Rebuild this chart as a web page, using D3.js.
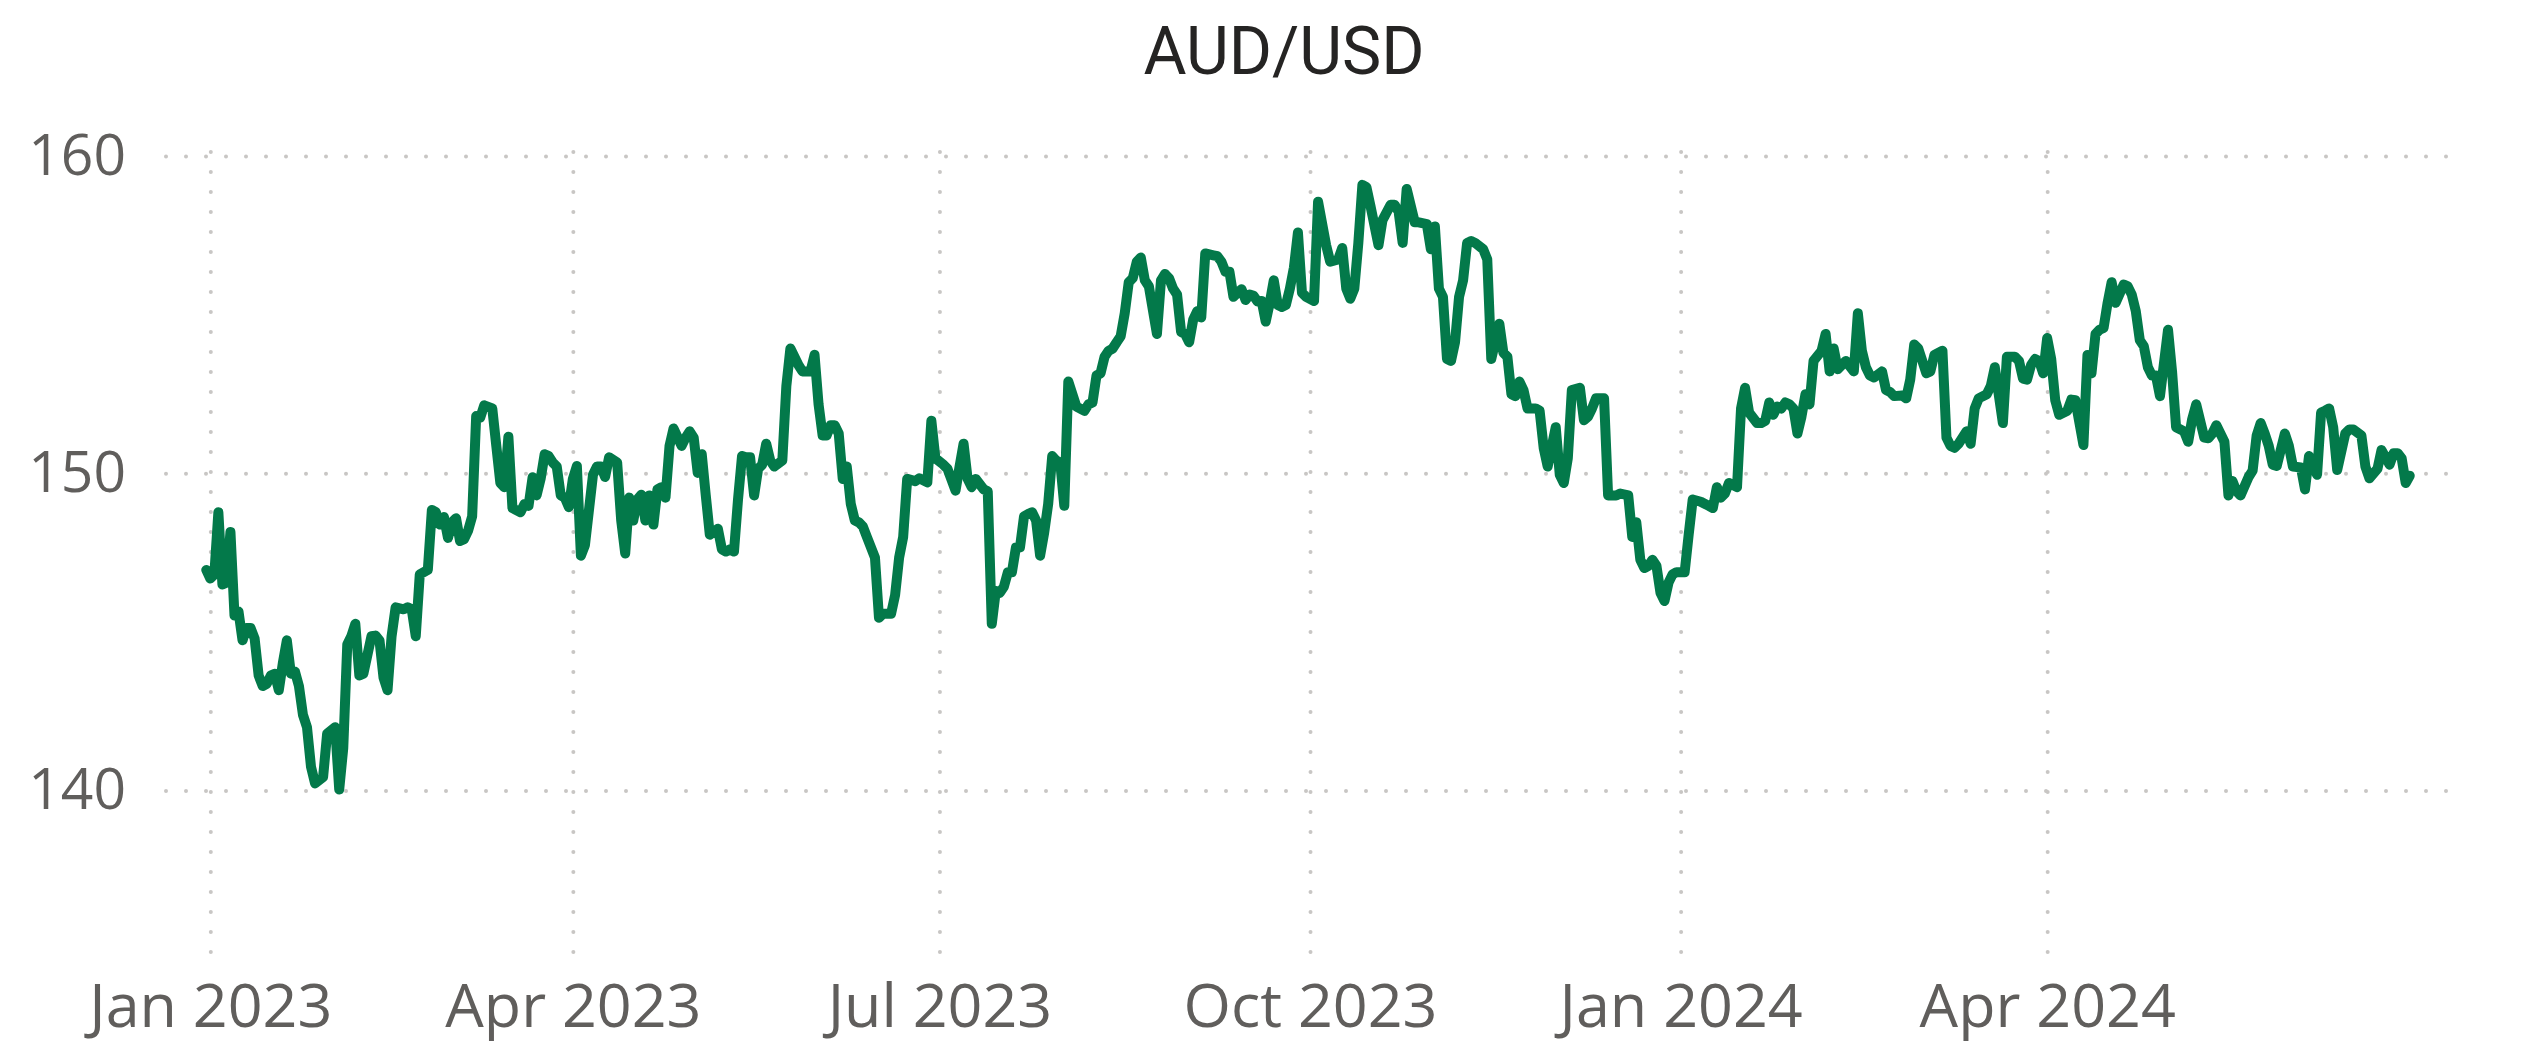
<!DOCTYPE html>
<html>
<head>
<meta charset="utf-8">
<title>AUD/USD</title>
<script src="https://cdn.jsdelivr.net/npm/d3@7"></script>
<style>
  body { margin: 0; background: #fff; overflow: hidden; }
  .title { font-family: "Roboto", "DejaVu Sans", sans-serif; font-weight: 400; fill: #252423; }
  .tick text { font-family: "Segoe UI", "Open Sans", "Noto Sans", sans-serif; fill: #605e5c; }
  .grid line { stroke: #c8c6c4; stroke-width: 4; stroke-linecap: round; }
  .rate { fill: none; stroke: #03794a; stroke-width: 10; stroke-linejoin: round; stroke-linecap: round; }
</style>
</head>
<body>
<div id="chart"></div>
<script>
// daily closes, one line per month
var dates = [
  "2022-12-31",
  "2023-01-01","2023-01-02","2023-01-03","2023-01-04","2023-01-05","2023-01-06","2023-01-07","2023-01-08","2023-01-09","2023-01-10","2023-01-11","2023-01-12","2023-01-13","2023-01-14","2023-01-15","2023-01-16","2023-01-17","2023-01-18","2023-01-19","2023-01-20","2023-01-21","2023-01-22","2023-01-23","2023-01-24","2023-01-25","2023-01-26","2023-01-27","2023-01-29","2023-01-30",
  "2023-02-01","2023-02-02","2023-02-03","2023-02-04","2023-02-05","2023-02-06","2023-02-07","2023-02-08","2023-02-09","2023-02-10","2023-02-11","2023-02-12","2023-02-13","2023-02-14","2023-02-15","2023-02-16","2023-02-18","2023-02-19","2023-02-20","2023-02-21","2023-02-22","2023-02-23","2023-02-24","2023-02-25","2023-02-26","2023-02-27","2023-02-28",
  "2023-03-01","2023-03-02","2023-03-03","2023-03-04","2023-03-05","2023-03-06","2023-03-07","2023-03-08","2023-03-09","2023-03-10","2023-03-12","2023-03-13","2023-03-14","2023-03-15","2023-03-16","2023-03-17","2023-03-19","2023-03-20","2023-03-21","2023-03-22","2023-03-23","2023-03-24","2023-03-25","2023-03-26","2023-03-27","2023-03-28","2023-03-29","2023-03-30","2023-03-31",
  "2023-04-01","2023-04-02","2023-04-03","2023-04-04","2023-04-06","2023-04-07","2023-04-08","2023-04-09","2023-04-10","2023-04-12","2023-04-13","2023-04-14","2023-04-15","2023-04-16","2023-04-17","2023-04-18","2023-04-19","2023-04-20","2023-04-21","2023-04-22","2023-04-23","2023-04-24","2023-04-25","2023-04-26","2023-04-28","2023-04-29","2023-04-30",
  "2023-05-01","2023-05-02","2023-05-03","2023-05-04","2023-05-05","2023-05-07","2023-05-08","2023-05-09","2023-05-10","2023-05-11","2023-05-12","2023-05-13","2023-05-14","2023-05-15","2023-05-16","2023-05-17","2023-05-18","2023-05-19","2023-05-20","2023-05-21","2023-05-23","2023-05-24","2023-05-25","2023-05-27","2023-05-28","2023-05-30","2023-05-31",
  "2023-06-01","2023-06-02","2023-06-03","2023-06-04","2023-06-05","2023-06-06","2023-06-07","2023-06-08","2023-06-09","2023-06-10","2023-06-11","2023-06-12","2023-06-13","2023-06-15","2023-06-16","2023-06-17","2023-06-19","2023-06-20","2023-06-21","2023-06-22","2023-06-23","2023-06-25","2023-06-26","2023-06-28","2023-06-29","2023-06-30",
  "2023-07-02","2023-07-03","2023-07-05","2023-07-06","2023-07-07","2023-07-08","2023-07-09","2023-07-10","2023-07-12","2023-07-13","2023-07-14","2023-07-15","2023-07-16","2023-07-17","2023-07-18","2023-07-19","2023-07-20","2023-07-21","2023-07-22","2023-07-23","2023-07-24","2023-07-25","2023-07-26","2023-07-27","2023-07-28","2023-07-29","2023-07-30","2023-07-31",
  "2023-08-01","2023-08-02","2023-08-04","2023-08-06","2023-08-07","2023-08-08","2023-08-09","2023-08-10","2023-08-11","2023-08-12","2023-08-13","2023-08-14","2023-08-15","2023-08-16","2023-08-17","2023-08-18","2023-08-19","2023-08-20","2023-08-21","2023-08-22","2023-08-24","2023-08-25","2023-08-26","2023-08-27","2023-08-28","2023-08-29","2023-08-30","2023-08-31",
  "2023-09-01","2023-09-02","2023-09-03","2023-09-04","2023-09-05","2023-09-07","2023-09-08","2023-09-09","2023-09-10","2023-09-11","2023-09-12","2023-09-13","2023-09-14","2023-09-15","2023-09-16","2023-09-17","2023-09-18","2023-09-19","2023-09-20","2023-09-21","2023-09-22","2023-09-23","2023-09-24","2023-09-25","2023-09-26","2023-09-27","2023-09-28","2023-09-29","2023-09-30",
  "2023-10-02","2023-10-03","2023-10-05","2023-10-06","2023-10-08","2023-10-09","2023-10-10","2023-10-11","2023-10-12","2023-10-13","2023-10-14","2023-10-15","2023-10-16","2023-10-18","2023-10-19","2023-10-21","2023-10-22","2023-10-23","2023-10-24","2023-10-25","2023-10-27","2023-10-28","2023-10-30","2023-10-31",
  "2023-11-01","2023-11-02","2023-11-03","2023-11-04","2023-11-05","2023-11-06","2023-11-07","2023-11-08","2023-11-09","2023-11-10","2023-11-11","2023-11-13","2023-11-14","2023-11-15","2023-11-17","2023-11-18","2023-11-19","2023-11-20","2023-11-21","2023-11-22","2023-11-23","2023-11-24","2023-11-26","2023-11-27","2023-11-28","2023-11-29",
  "2023-12-01","2023-12-02","2023-12-03","2023-12-04","2023-12-05","2023-12-07","2023-12-08","2023-12-09","2023-12-10","2023-12-11","2023-12-13","2023-12-14","2023-12-16","2023-12-17","2023-12-19","2023-12-20","2023-12-21","2023-12-22","2023-12-23","2023-12-24","2023-12-25","2023-12-26","2023-12-27","2023-12-28","2023-12-29","2023-12-30","2023-12-31",
  "2024-01-02","2024-01-03","2024-01-04","2024-01-06","2024-01-08","2024-01-09","2024-01-10","2024-01-11","2024-01-12","2024-01-13","2024-01-15","2024-01-16","2024-01-17","2024-01-18","2024-01-20","2024-01-21","2024-01-22","2024-01-23","2024-01-24","2024-01-25","2024-01-26","2024-01-27","2024-01-28","2024-01-29","2024-01-30","2024-01-31",
  "2024-02-01","2024-02-02","2024-02-03","2024-02-05","2024-02-06","2024-02-07","2024-02-08","2024-02-09","2024-02-11","2024-02-13","2024-02-14","2024-02-15","2024-02-16","2024-02-17","2024-02-18","2024-02-20","2024-02-21","2024-02-22","2024-02-23","2024-02-25","2024-02-26","2024-02-27","2024-02-28","2024-02-29",
  "2024-03-02","2024-03-03","2024-03-04","2024-03-06","2024-03-07","2024-03-08","2024-03-09","2024-03-10","2024-03-12","2024-03-13","2024-03-14","2024-03-15","2024-03-17","2024-03-18","2024-03-19","2024-03-21","2024-03-22","2024-03-24","2024-03-25","2024-03-26","2024-03-27","2024-03-28","2024-03-29","2024-03-30","2024-03-31",
  "2024-04-01","2024-04-02","2024-04-03","2024-04-04","2024-04-06","2024-04-07","2024-04-08","2024-04-10","2024-04-11","2024-04-12","2024-04-13","2024-04-14","2024-04-15","2024-04-16","2024-04-17","2024-04-18","2024-04-20","2024-04-21","2024-04-22","2024-04-23","2024-04-24","2024-04-25","2024-04-26","2024-04-27","2024-04-28","2024-04-29",
  "2024-05-01","2024-05-02","2024-05-03","2024-05-05","2024-05-06","2024-05-07","2024-05-08","2024-05-10","2024-05-11","2024-05-12","2024-05-13","2024-05-14","2024-05-15","2024-05-16","2024-05-17","2024-05-18","2024-05-19","2024-05-21","2024-05-22","2024-05-23","2024-05-24","2024-05-25","2024-05-26","2024-05-27","2024-05-28","2024-05-30","2024-05-31",
  "2024-06-01","2024-06-03","2024-06-04","2024-06-05","2024-06-07","2024-06-08","2024-06-09","2024-06-10","2024-06-11","2024-06-12","2024-06-14","2024-06-15","2024-06-16","2024-06-18","2024-06-19","2024-06-20","2024-06-22","2024-06-23","2024-06-25","2024-06-26","2024-06-27","2024-06-28","2024-06-29","2024-06-30"
];

var rates = [
  146.95,
  146.68,146.81,148.77,146.49,146.55,148.15,145.51,145.64,144.73,145.12,145.12,144.79,143.62,143.29,143.36,143.62,143.68,143.16,144.01,144.73,143.68,143.75,143.29,142.38,141.99,140.74,140.22,140.42,141.79,
  141.99,140.03,141.33,144.60,144.86,145.25,143.62,143.68,144.27,144.86,144.88,144.73,143.55,143.16,144.86,145.77,145.71,145.77,145.71,144.86,146.81,146.88,146.95,148.84,148.77,148.38,148.62,
  147.96,148.45,148.58,147.86,147.92,148.19,148.64,151.80,151.75,152.14,152.04,150.86,149.69,149.56,151.15,148.90,148.77,149.03,148.97,149.87,149.30,149.82,150.60,150.54,150.34,150.21,149.30,149.23,148.93,
  149.82,150.23,147.40,147.73,149.95,150.21,150.21,149.88,150.50,150.34,148.51,147.47,149.23,148.51,149.17,149.32,148.51,149.30,148.38,149.49,149.56,149.23,150.86,151.41,150.86,151.12,151.32,
  151.12,150.01,150.60,149.30,148.06,148.25,147.60,147.53,147.60,147.53,149.17,150.54,150.50,150.50,149.30,150.14,150.27,150.93,150.40,150.21,150.40,152.75,153.93,153.41,153.21,153.21,153.73,
  152.17,151.19,151.19,151.51,151.51,151.25,149.82,150.21,149.03,148.51,148.45,148.32,147.99,147.34,145.44,145.57,145.57,146.16,147.34,147.99,149.82,149.75,149.84,149.71,151.65,150.47,
  150.27,150.14,149.45,150.21,150.93,149.82,149.56,149.82,149.49,149.43,145.25,146.29,146.23,146.42,146.88,146.88,147.66,147.66,148.64,148.71,148.77,148.51,147.40,148.12,149.03,150.54,150.40,150.34,
  148.97,152.89,152.10,151.97,152.17,152.23,153.08,153.15,153.67,153.86,153.93,154.13,154.32,155.04,156.02,156.15,156.67,156.80,156.08,155.89,154.39,156.08,156.28,156.15,155.82,155.63,154.45,154.39,
  154.13,154.84,155.11,154.91,156.93,156.87,156.84,156.67,156.35,156.35,155.56,155.69,155.80,155.46,155.63,155.59,155.41,155.43,154.78,155.37,156.08,155.30,155.24,155.30,155.82,156.48,157.59,155.69,155.56,
  155.43,158.56,157.19,156.67,156.74,157.10,155.82,155.50,155.82,157.26,159.09,159.02,158.43,157.19,157.98,158.46,158.46,158.24,157.26,158.96,157.91,157.91,157.85,157.06,
  157.78,155.82,155.56,153.60,153.54,154.13,155.56,156.08,157.26,157.32,157.26,157.06,156.74,153.60,154.71,153.80,153.67,152.49,152.43,152.89,152.62,152.04,152.04,151.97,150.80,150.21,
  151.45,149.95,149.69,150.47,152.62,152.69,151.67,151.78,152.04,152.36,152.36,149.30,149.30,149.36,149.30,147.99,148.45,147.27,147.01,147.08,147.27,147.08,146.23,145.97,146.55,146.81,146.88,
  146.88,148.06,149.17,149.10,148.97,148.90,149.56,149.23,149.36,149.69,149.56,152.04,152.69,151.91,151.58,151.58,151.65,152.23,151.84,152.10,152.04,152.23,152.17,152.04,151.25,151.78,
  152.49,152.17,153.54,153.86,154.39,153.21,153.93,153.28,153.54,153.21,155.04,153.86,153.34,153.08,153.02,153.21,152.62,152.56,152.43,152.45,152.36,152.95,154.06,153.93,
  153.15,153.21,153.73,153.86,151.12,150.86,150.80,150.93,151.32,150.93,152.04,152.36,152.49,152.75,153.34,151.58,153.67,153.67,153.54,152.98,152.95,153.41,153.60,153.54,153.15,
  154.26,153.60,152.30,151.84,151.97,152.32,152.30,150.89,153.73,153.15,154.39,154.52,154.58,155.37,156.02,155.37,155.95,155.89,155.63,155.11,154.19,154.00,153.34,153.08,153.08,152.43,
  154.52,153.21,151.45,151.32,150.99,151.71,152.17,151.12,151.10,151.25,151.51,151.25,150.99,149.30,149.75,149.43,149.30,149.88,150.08,151.19,151.58,151.25,150.86,150.27,150.23,151.25,150.86,
  150.21,150.18,149.49,150.54,149.95,151.91,151.97,152.04,151.45,150.10,151.25,151.38,151.38,151.19,150.21,149.84,150.14,150.73,150.27,150.63,150.63,150.47,149.69,149.92
];

var xTicks = ["2023-01-01", "2023-04-01", "2023-07-01", "2023-10-01", "2024-01-01", "2024-04-01"];
var yTicks = [140, 150, 160];
var chartTitle = "AUD/USD";

var W = 2534, H = 1052;
var parse = d3.timeParse("%Y-%m-%d");

var data = dates.map(function(d, i) { return { date: parse(d), rate: rates[i] }; });

var x = d3.scaleTime()
          .domain([parse("2022-12-21"), parse("2024-07-10")])
          .range([166, 2450]);
var y = d3.scaleLinear().domain([135, 160]).range([949, 156]);

var svg = d3.select("#chart").append("svg")
            .attr("width", W)
            .attr("height", H);

svg.append("text")
   .attr("class", "title")
   .attr("x", 1284)
   .attr("y", 74)
   .attr("text-anchor", "middle")
   .attr("font-size", 66)
   .text(chartTitle);

// horizontal dotted grid + value labels
var yAxis = svg.append("g")
   .attr("class", "grid y")
   .attr("transform", "translate(" + x.range()[0] + ",0)")
   .call(d3.axisLeft(y)
           .tickValues(yTicks)
           .tickSize(-(x.range()[1] - x.range()[0]))
           .tickPadding(40));
yAxis.select(".domain").remove();
yAxis.selectAll("line").attr("stroke-dasharray", "0 20");
yAxis.selectAll("text").attr("font-size", 57);

// vertical dotted grid + month labels
var xAxis = svg.append("g")
   .attr("class", "grid x")
   .attr("transform", "translate(0,952)")
   .call(d3.axisBottom(x)
           .tickValues(xTicks.map(parse))
           .tickFormat(d3.timeFormat("%b %Y"))
           .tickSize(-(952 - 150))
           .tickPadding(32));
xAxis.select(".domain").remove();
xAxis.selectAll("line").attr("stroke-dasharray", "0 20");
xAxis.selectAll("text").attr("font-size", 61);

var line = d3.line()
             .x(function(d) { return x(d.date); })
             .y(function(d) { return y(d.rate); });

svg.append("path")
   .datum(data)
   .attr("class", "rate")
   .attr("d", line);
</script>
</body>
</html>
